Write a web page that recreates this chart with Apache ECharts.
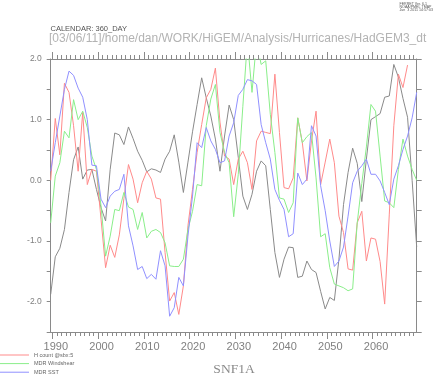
<!DOCTYPE html>
<html>
<head>
<meta charset="utf-8">
<script src="https://cdn.jsdelivr.net/npm/echarts@6/dist/echarts.min.js"></script>
<style>
html,body{margin:0;padding:0;background:#fff;}
#chart{width:440px;height:375px;}
</style>
</head>
<body>
<div id="chart"></div>
<script>
// ---- data ----
const years = [1989,1990,1991,1992,1993,1994,1995,1996,1997,1998,
  1999,2000,2001,2002,2003,2004,2005,2006,2007,2008,
  2009,2010,2011,2012,2013,2014,2015,2016,2017,2018,
  2019,2020,2021,2022,2023,2024,2025,2026,2027,2028,
  2029,2030,2031,2032,2033,2034,2035,2036,2037,2038,
  2039,2040,2041,2042,2043,2044,2045,2046,2047,2048,
  2049,2050,2051,2052,2053,2054,2055,2056,2057,2058,
  2059,2060,2061,2062,2063,2064,2065,2066,2067,2068,2069];
// time stamp within each year (hurricane season, ~late August)
const SEASON = 0.65;

const hCount = [0.0,1.02,0.42,1.6,1.45,0.9,0.15,1.12,-0.07,0.18,
  0.15,-0.64,-1.44,-1.07,-1.27,-0.9,-0.3,0.26,0.02,-0.37,
  -0.04,0.15,0.02,-0.29,-0.31,-1.19,-1.99,-1.85,-2.21,-1.74,
  -0.75,-0.15,0.46,0.92,1.36,1.5,1.85,0.96,0.4,0.35,
  -0.07,0.35,0.48,0.29,-0.15,0.65,0.81,0.79,0.77,1.75,
  0.79,-0.12,-0.14,0.04,1.03,0.62,-0.01,0.65,1.14,-0.07,
  0.3,0.68,0.29,-0.59,-0.86,-1.46,-1.48,-0.7,-0.51,-1.33,
  -0.95,-0.97,-1.34,-2.04,-0.57,0.9,1.75,1.53,1.9,null,null];

const windshear = [-0.7,0.07,0.29,0.81,0.7,1.33,1.0,1.14,0.87,0.4,
  0.18,-0.42,-1.25,-0.92,-0.48,-0.5,-0.2,-0.44,-0.48,-0.81,
  -0.53,-0.95,-0.84,-0.81,-0.86,-1.03,-1.41,-1.42,-1.42,-1.3,
  -0.81,-0.51,-0.07,-0.09,0.9,1.34,1.58,0.79,0.46,0.29,
  -0.6,0.1,1.22,2.3,1.45,2.3,1.91,1.97,1.09,0.46,
  -0.29,-0.31,-0.53,-0.37,1.03,0.62,0.72,0.79,0.04,-0.93,
  -0.88,-1.44,-1.71,-1.74,-1.77,-1.82,-1.79,-0.7,-0.05,0.55,
  1.25,1.14,0.4,-0.34,-0.37,-0.45,0.18,0.68,0.4,0.18,0.0];

const sst = [0.15,0.62,1.06,1.5,1.8,1.73,1.52,1.37,1.0,0.25,
  0.24,-0.31,-0.45,-0.26,-0.18,-0.15,0.1,-0.75,-1.08,-1.47,
  -1.42,-1.62,-1.55,-1.63,-1.16,-1.41,-2.24,-2.1,-1.6,-1.74,
  -0.92,-0.26,0.62,0.54,0.87,0.65,0.51,0.29,0.32,0.73,
  0.95,1.4,1.5,1.66,1.64,1.58,0.92,0.62,0.35,-0.15,
  -0.33,-0.48,-0.93,-0.88,0.12,-0.07,0.02,0.9,0.73,-0.09,
  -0.5,-1.0,-1.42,-1.33,-1.1,-0.59,-0.04,0.15,0.24,0.35,
  0.1,0.1,-0.01,-0.2,-0.4,0.02,0.24,0.51,0.73,1.03,1.45];

const fourth = [-1.88,-1.26,-1.12,-0.81,-0.2,0.34,0.55,0.02,0.17,0.18,
  -0.15,-0.45,-0.67,0.18,0.78,0.75,0.59,0.88,0.69,0.48,
  0.33,0.14,0.19,0.17,0.13,0.35,0.48,0.75,0.3,-0.2,
  0.3,0.8,1.25,1.69,1.36,1.06,0.68,0.15,0.73,1.24,
  1.0,0.38,-0.26,-0.48,-0.23,0.15,0.32,0.24,-0.48,-1.19,
  -1.6,-1.3,-1.1,-1.11,-1.6,-1.58,-1.33,-1.47,-1.52,-1.83,
  -2.12,-1.93,-1.98,-1.3,-0.4,0.13,0.53,0.28,-0.35,0.35,
  1.0,1.05,1.1,1.37,1.39,1.91,1.7,1.35,1.04,0.0,-1.1];

const seriesNames = ['H count @sbx:5','MDR Windshear','MDR SST'];
const xTickLabels = ['1990','2000','2010','2020','2030','2040','2050','2060'];
const xMinorTicks = [1990,1991,1992,1993,1994,1995,1996,1997,1998,1999,
  2000,2001,2002,2003,2004,2005,2006,2007,2008,2009,
  2010,2011,2012,2013,2014,2015,2016,2017,2018,2019,
  2020,2021,2022,2023,2024,2025,2026,2027,2028,2029,
  2030,2031,2032,2033,2034,2035,2036,2037,2038,2039,
  2040,2041,2042,2043,2044,2045,2046,2047,2048,2049,
  2050,2051,2052,2053,2054,2055,2056,2057,2058,2059,
  2060,2061,2062,2063,2064,2065,2066,2067,2068,2069];
const yTickLabels = ['-2.0','-1.0','0.0','1.0','2.0'];

const titleText = 'CALENDAR: 360_DAY';
const pathText = '[03/06/11]/home/dan/WORK/HiGEM/Analysis/Hurricanes/HadGEM3_dt';
const ferretText = 'FERRET Ver. 6.1\nNOAA/PMEL TMAP\nJun  3 2011 14:57:03';
const plotLabel = 'SNF1A';

// ---- chart ----
const xMajor = xTickLabels.map(Number);
const X_MIN = years[0] + SEASON;
const X_MAX = years[years.length - 1] + SEASON;
const axisColor = '#8a8a8a';
const labelColor = '#808080';
const FONT = 'Liberation Sans, Arial, sans-serif';

function pts(vals) { return years.map((y, k) => [y + SEASON, vals[k]]); }

function xAx(pos, ticks, len, showLine, labels) {
  return {
    type: 'value', position: pos, min: X_MIN, max: X_MAX, gridIndex: 0,
    axisLine: {show: showLine, onZero: false, lineStyle: {color: axisColor, width: 1}},
    axisTick: {show: true, inside: false, length: len, customValues: ticks,
               lineStyle: {color: axisColor, width: 1}},
    axisLabel: labels ? {show: true, customValues: xMajor, color: labelColor, fontSize: 11,
               fontFamily: FONT, margin: 9, padding: [0, 0, 0, 7],
               formatter: v => xTickLabels[xMajor.indexOf(Math.round(v))] || ''} : {show: false},
    splitLine: {show: false}
  };
}

const chart = echarts.init(document.getElementById('chart'), null, {renderer: 'canvas'});
const lineColors = ['#ff8a8a', '#8aee8a', '#9090ff'];

chart.setOption({
  animation: false,
  backgroundColor: '#ffffff',
  grid: {left: 50.7, right: 23.3, top: 59, bottom: 43, containLabel: false},
  legend: {
    show: true, orient: 'vertical', left: 0, top: 352, height: 40,
    itemWidth: 29, itemHeight: 1, itemGap: 2.6, icon: 'rect', padding: 0,
    data: seriesNames,
    textStyle: {fontSize: 5.5, color: '#666', fontFamily: FONT, lineHeight: 6}
  },
  xAxis: [
    xAx('bottom', xMajor, 7, true, true),
    xAx('bottom', xMinorTicks, 4, false, false),
    xAx('top', xMajor, 7, true, false),
    xAx('top', xMinorTicks, 4, false, false)
  ],
  yAxis: [
    {type: 'value', position: 'left', min: -2.5, max: 2.0, interval: 0.5,
     axisLine: {show: true, onZero: false, lineStyle: {color: axisColor, width: 1}},
     axisTick: {show: true, inside: false, length: 4, lineStyle: {color: axisColor}},
     axisLabel: {color: labelColor, fontSize: 8.5, fontFamily: FONT, margin: 9,
       formatter: v => { const t = v.toFixed(1); return yTickLabels.indexOf(t) >= 0 ? t : ''; }},
     splitLine: {show: false}},
    {type: 'value', position: 'right', min: -2.5, max: 2.0, interval: 0.5,
     axisLine: {show: true, onZero: false, lineStyle: {color: axisColor, width: 1}},
     axisTick: {show: true, inside: false, length: 5, lineStyle: {color: axisColor}},
     axisLabel: {show: false}, splitLine: {show: false}}
  ],
  series: [
    {name: 'series4', type: 'line', data: pts(fourth), showSymbol: false, symbol: 'none',
     lineStyle: {color: '#8a8a8a', width: 1}, itemStyle: {color: '#8a8a8a'}, clip: true, z: 2},
    {name: seriesNames[0], type: 'line', data: pts(hCount), showSymbol: false, symbol: 'none',
     connectNulls: false, lineStyle: {color: lineColors[0], width: 1}, itemStyle: {color: lineColors[0]}, clip: true, z: 3},
    {name: seriesNames[1], type: 'line', data: pts(windshear), showSymbol: false, symbol: 'none',
     lineStyle: {color: lineColors[1], width: 1}, itemStyle: {color: lineColors[1]}, clip: true, z: 3},
    {name: seriesNames[2], type: 'line', data: pts(sst), showSymbol: false, symbol: 'none',
     lineStyle: {color: lineColors[2], width: 1}, itemStyle: {color: lineColors[2]}, clip: true, z: 3}
  ],
  graphic: [
    {type: 'text', left: 50.5, top: 24.5, style: {text: titleText, font: '7.5px ' + FONT, fill: '#555'}},
    {type: 'text', left: 49, top: 33, style: {text: pathText, font: '12px ' + FONT, fill: '#b3b3b3'}},
    {type: 'text', right: 7, top: 1.5, style: {text: ferretText, font: '3.6px ' + FONT, fill: '#555',
      lineHeight: 3.4, align: 'right'}},
    {type: 'text', x: 234, y: 369.5, style: {text: plotLabel, font: '13.5px Liberation Serif, Times New Roman, serif',
      fill: '#8a8a8a', align: 'center', verticalAlign: 'middle'}}
  ]
});
</script>
</body>
</html>
